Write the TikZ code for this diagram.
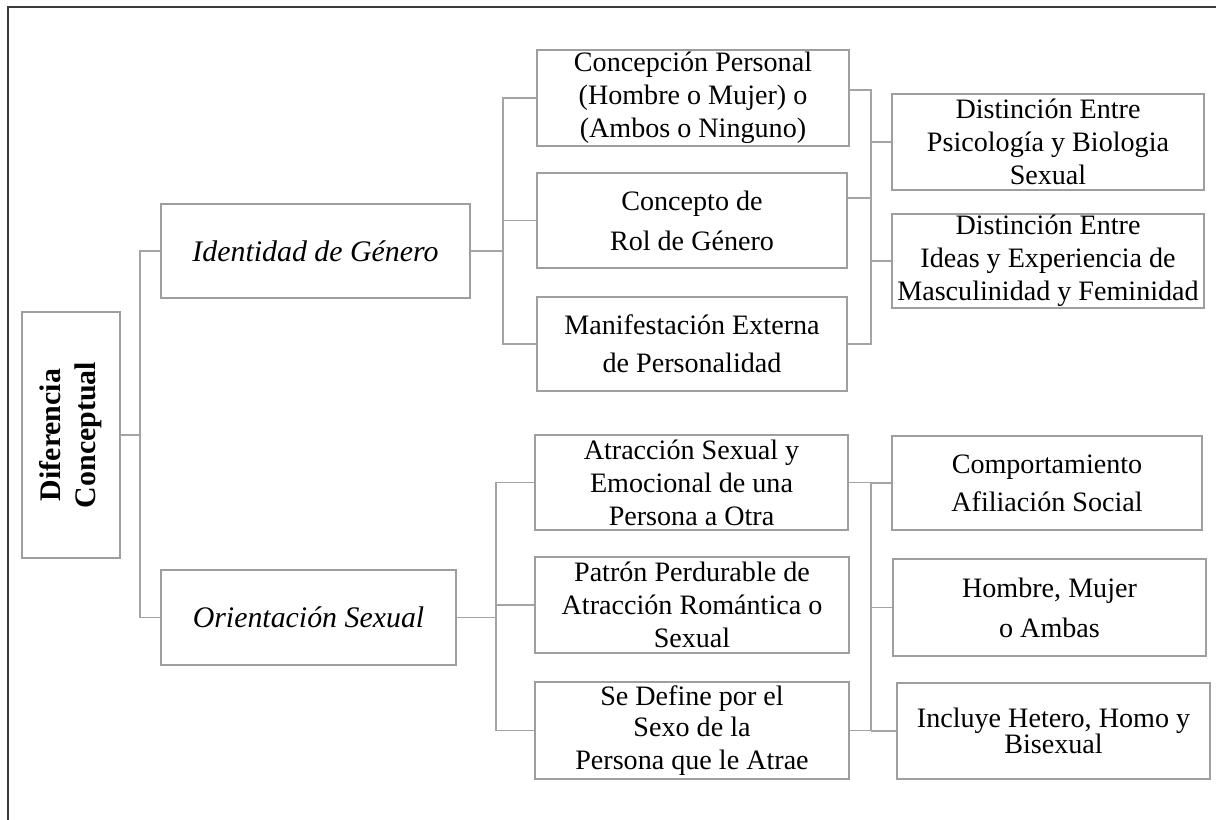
\documentclass[tikz,border=0pt]{standalone}
\usepackage{fontspec}
\setmainfont{Liberation Serif}
\usepackage{tikz}
\definecolor{cajagris}{HTML}{9E9E9E}
\definecolor{lineagris}{HTML}{A4A4A4}
\definecolor{marcogris}{HTML}{3A3A3A}

\begin{document}
\begin{tikzpicture}[x=0.02cm, y=-0.02cm,
        caja/.style={draw=cajagris, line width=0.7pt, align=center, inner sep=0pt,
            font=\fontsize{16}{18.8}\selectfont, minimum height=1.9cm},
        titulo/.style={caja, font=\fontsize{17}{20}\selectfont\itshape},
        linea/.style={draw=lineagris, line width=0.9pt},
        marco/.style={draw=marcogris, line width=1.2pt}]
        \useasboundingbox (0,0) rectangle (1216,820);
        \draw[marco] (1216,7) -| (8,820);

        \node[caja, minimum width=1.96cm, minimum height=4.92cm] (dif) at (71,435)
            {\rotatebox{90}{\fontsize{17}{20}\selectfont\bfseries
            \begin{tabular}{@{}c@{}}Diferencia\\Conceptual\end{tabular}}};
        \node[titulo, minimum width=6.18cm, minimum height=1.88cm] (ident) at (315.5,251) {Identidad de Género};
        \node[titulo, minimum width=5.9cm] (orient) at (308.5,617.5) {Orientación Sexual};

        \node[caja, minimum width=6.24cm, minimum height=1.92cm] (concep) at (693,98)
            {Concepción Personal\\(Hombre o Mujer) o\\(Ambos o Ninguno)};
        \node[caja, minimum width=6.2cm] (rol) at (692,220.5) {Concepto de\\[4pt]Rol de Género};
        \node[caja, minimum width=6.2cm, minimum height=1.88cm] (manif) at (692,344)
            {Manifestación Externa\\[3pt]de Personalidad};
        \node[caja, minimum width=6.26cm] (atrac) at (691.5,482.5)
            {Atracción Sexual y\\Emocional de una\\Persona a Otra};
        \node[caja, minimum width=6.28cm, minimum height=1.92cm] (patron) at (692,605)
            {Patrón Perdurable de\\Atracción Romántica o\\Sexual};
        \node[caja, minimum width=6.28cm, minimum height=1.94cm] (define) at (692,730.5)
            {Se Define por el\\[-1pt]Sexo de la\\Persona que le Atrae};

        \node[caja, minimum width=6.24cm, minimum height=1.92cm] (psico) at (1048,142)
            {Distinción Entre\\Psicología y Biologia\\Sexual};
        \node[caja, minimum width=6.24cm, minimum height=1.88cm] (ideas) at (1048,261)
            {Distinción Entre\\Ideas y Experiencia de\\Masculinidad y Feminidad};
        \node[caja, minimum width=6.2cm, minimum height=1.88cm] (comport) at (1047,483)
            {Comportamiento\\[3pt]Afiliación Social};
        \node[caja, minimum width=6.26cm, minimum height=1.94cm] (hombre) at (1049.5,607.5)
            {Hombre, Mujer\\[4pt]o Ambas};
        \node[caja, minimum width=6.26cm, minimum height=1.92cm] (incluye) at (1053.5,731)
            {Incluye Hetero, Homo y\\[-4pt]Bisexual};

        \coordinate (t0) at (140,435);
        \coordinate (t1) at (503,251);
        \coordinate (t2) at (496,617.5);
        \coordinate (t3) at (871,250);
        \coordinate (t4) at (871,600);

        \draw[linea] (dif.east) -- (t0);
        \draw[linea] (ident.west) -| (t0) |- (orient.west);

        \draw[linea] (ident.east) -- (t1);
        \draw[linea] (concep.west) -| (t1) |- (manif.west);
        \draw[linea] (rol.west) -- (rol.west -| t1);

        \draw[linea] (orient.east) -- (t2);
        \draw[linea] (atrac.west) -| (t2) |- (define.west);
        \draw[linea] (patron.west) -- (patron.west -| t2);

        \coordinate (c1) at ([yshift=0.16cm]concep.east);
        \coordinate (r1) at ([yshift=0.45cm]rol.east);
        \draw[linea] (c1) -| (t3) |- (manif.east);
        \draw[linea] (r1) -- (r1 -| t3);
        \draw[linea] (psico.west) -- (psico.west -| t3);
        \draw[linea] (ideas.west) -- (ideas.west -| t3);

        \draw[linea] (atrac.east) -| (t4) |- (define.east);
        \draw[linea] (comport.west) -- (comport.west -| t4);
        \draw[linea] (hombre.west) -- (hombre.west -| t4);
        \draw[linea] (incluye.west) -- (incluye.west -| t4);
    \end{tikzpicture}
\end{document}
